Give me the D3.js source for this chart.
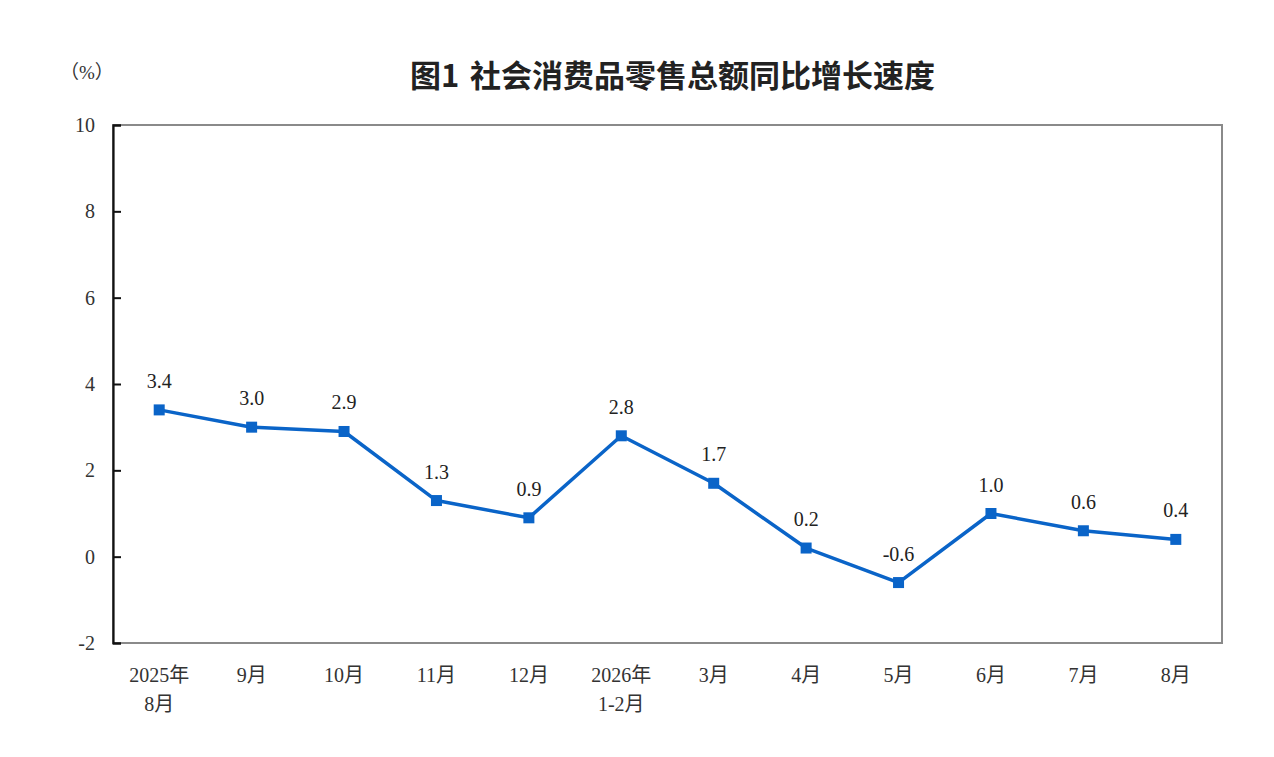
<!DOCTYPE html>
<html>
<head>
<meta charset="utf-8">
<script src="https://cdn.jsdelivr.net/npm/d3@7"></script>
<style>
  html, body { margin: 0; padding: 0; background: #fff; }
  svg { display: block; }
</style>
</head>
<body>
<div id="chart"></div>
<script>
// Month labels (two lines where the year changes) and year-on-year growth in %.
const categories = ['2025年\n8月', '9月', '10月', '11月', '12月', '2026年\n1-2月', '3月', '4月', '5月', '6月', '7月', '8月'];
const growth = [3.4, 3.0, 2.9, 1.3, 0.9, 2.8, 1.7, 0.2, -0.6, 1.0, 0.6, 0.4];
const yTicks = [-2, 0, 2, 4, 6, 8, 10];

const width = 1274, height = 757;
const margin = { top: 125, right: 52, bottom: 114, left: 113 };
const serif = '"Liberation Serif", "DejaVu Serif", "Noto Sans CJK SC", serif';
const lineColor = '#0a64c8';

const svg = d3.select('#chart')
  .append('svg')
  .attr('width', width)
  .attr('height', height);

const x = d3.scaleBand()
  .domain(categories)
  .range([margin.left, width - margin.right]);

const y = d3.scaleLinear()
  .domain([-2, 10])
  .range([height - margin.bottom, margin.top]);

// Title and unit
const title = svg.append('text')
  .attr('y', 87)
  .attr('font-family', '"Noto Sans CJK SC", sans-serif')
  .attr('font-weight', 700)
  .attr('font-size', 31)
  .attr('fill', '#222');
title.append('tspan').attr('x', 410).text('图1');
title.append('tspan').attr('x', 470).text('社会消费品零售总额同比增长速度');

svg.append('text')
  .attr('x', 60)
  .attr('y', 79)
  .attr('font-family', serif)
  .attr('font-size', 19)
  .attr('fill', '#333')
  .text('（%）');

// Frame: gray top, right and bottom
svg.append('rect')
  .attr('x', margin.left)
  .attr('y', margin.top)
  .attr('width', width - margin.left - margin.right)
  .attr('height', height - margin.top - margin.bottom)
  .attr('fill', 'none')
  .attr('stroke', '#8a8a8a')
  .attr('stroke-width', 2);

// Left axis with inward ticks
const yAxis = svg.append('g')
  .attr('transform', `translate(${margin.left},0)`)
  .call(d3.axisLeft(y).tickValues(yTicks).tickSize(-8).tickPadding(18).tickFormat(d => String(d)));
yAxis.select('.domain').attr('stroke', '#111').attr('stroke-width', 2.2);
yAxis.selectAll('.tick line').attr('stroke', '#111').attr('stroke-width', 2);
yAxis.selectAll('.tick text')
  .attr('font-family', serif)
  .attr('font-size', 20)
  .attr('fill', '#333');

// Category labels, split on newline
const xLabels = svg.append('g')
  .selectAll('text')
  .data(categories)
  .join('text')
  .attr('x', d => x(d) + x.bandwidth() / 2)
  .attr('y', 682)
  .attr('text-anchor', 'middle')
  .attr('font-family', serif)
  .attr('font-size', 20)
  .attr('fill', '#333');
xLabels.selectAll('tspan')
  .data(d => d.split('\n').map(s => ({ s, parent: d })))
  .join('tspan')
  .attr('x', d => x(d.parent) + x.bandwidth() / 2)
  .attr('dy', (d, i) => i === 0 ? 0 : 29)
  .text(d => d.s);

// Line and markers
const points = categories.map((c, i) => ({ c, v: growth[i] }));
const cx = d => x(d.c) + x.bandwidth() / 2;

svg.append('path')
  .datum(points)
  .attr('fill', 'none')
  .attr('stroke', lineColor)
  .attr('stroke-width', 3.5)
  .attr('stroke-linejoin', 'round')
  .attr('d', d3.line().x(cx).y(d => y(d.v)));

svg.append('g')
  .selectAll('rect')
  .data(points)
  .join('rect')
  .attr('x', d => cx(d) - 5.5)
  .attr('y', d => y(d.v) - 5.5)
  .attr('width', 11)
  .attr('height', 11)
  .attr('fill', lineColor);

svg.append('g')
  .selectAll('text')
  .data(points)
  .join('text')
  .attr('x', cx)
  .attr('y', d => y(d.v) - 22)
  .attr('text-anchor', 'middle')
  .attr('font-family', serif)
  .attr('font-size', 20)
  .attr('fill', '#222')
  .text(d => d.v.toFixed(1));
</script>
</body>
</html>
